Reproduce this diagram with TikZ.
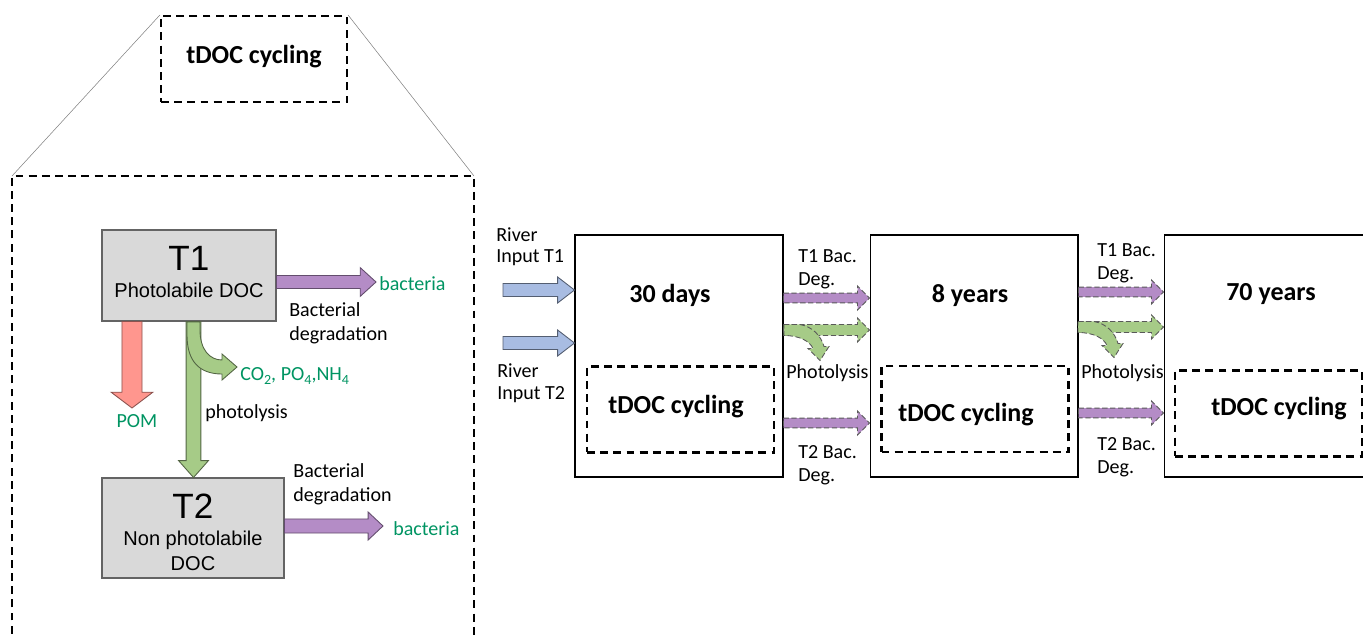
\documentclass[tikz,border=0pt]{standalone}
\usepackage{fontspec}
\setmainfont{Carlito}
\newfontfamily\arialfont{Liberation Sans}
\usetikzlibrary{positioning,calc}

\definecolor{arrpurple}{RGB}{180,140,198}
\definecolor{arrgreen}{RGB}{166,203,135}
\definecolor{arrred}{RGB}{255,150,142}
\definecolor{arrblue}{RGB}{168,188,226}
\definecolor{txtgreen}{RGB}{0,148,98}
\definecolor{boxgray}{RGB}{217,217,217}
\definecolor{boxline}{RGB}{100,100,100}

% block arrow: from #2 to #3, half shaft #4, half head #5, head length #6
\newcommand{\blockarrow}[6][]{%
  \coordinate (ba-base) at ($(#3)!#6!(#2)$);
  \filldraw[#1] ($(#2)!#4!90:(#3)$) -- ($(ba-base)!#4!90:(#3)$)
    -- ($(ba-base)!#5!90:(#3)$) -- (#3) -- ($(ba-base)!#5!-90:(#3)$)
    -- ($(ba-base)!#4!-90:(#3)$) -- ($(#2)!#4!-90:(#3)$) -- cycle;}
\newcommand{\chemsub}[1]{\raisebox{-0.45ex}{\fontsize{8}{8}\selectfont #1}}

\begin{document}
\begin{tikzpicture}[x=0.02cm, y=-0.02cm,
    lbl/.style={font=\fontsize{11.4}{13}\selectfont, inner sep=0pt, align=left},
    arial/.style={font=\arialfont\fontsize{11.4}{14.2}\selectfont, inner sep=0pt, align=center},
    cyc/.style={font=\bfseries\fontsize{14.8}{16}\selectfont, inner sep=0pt},
    dashbox/.style={draw, line width=1.2pt, dash pattern=on 4.5pt off 3pt},
    docbox/.style={draw=boxline, fill=boxgray, line width=0.6pt},
    stagebox/.style={draw, line width=0.6pt, minimum width=4.16cm, minimum height=4.84cm},
    innerbox/.style={dashbox, minimum width=3.74cm, minimum height=1.72cm},
    purplearr/.style={fill=arrpurple, draw=arrpurple!55!black, line width=0.5pt},
    greenarr/.style={fill=arrgreen, draw=arrgreen!50!black, line width=0.5pt},
    redarr/.style={fill=arrred, draw=arrred!55!black, line width=0.5pt},
    bluearr/.style={fill=arrblue, draw=arrblue!50!black, line width=0.5pt},
    dasharr/.style={draw=black!65, line width=0.5pt, dash pattern=on 3pt off 1.5pt}]

\clip (0,0) rectangle (1363,639);

% zoom on one tDOC cycling box
\node[dashbox, minimum width=3.72cm, minimum height=1.72cm] (zoomsrc) at (254,59) {};
\node[cyc, anchor=base] (zoomtxt) at (254,63) {tDOC cycling};
\coordinate (bigtl) at (12,176);
\coordinate (bigtr) at (474,176);
\draw[dashbox] (12,660) -- (bigtl) -- (bigtr) -- (474,660);
\draw[gray, line width=0.3pt] (zoomsrc.north west) -- (bigtl);
\draw[gray, line width=0.3pt] (zoomsrc.north east) -- (bigtr);

% the two pools
\node[docbox, minimum width=3.48cm, minimum height=1.82cm] (t1) at (189,275.5) {};
\node[arial, font=\arialfont\fontsize{20}{20}\selectfont, anchor=base] (t1name) at (189,270) {T1};
\node[arial, anchor=base] (t1desc) at (189,297) {Photolabile DOC};
\node[docbox, minimum width=3.64cm, minimum height=2cm] (t2) at (193,528) {};
\node[arial, font=\arialfont\fontsize{20}{20}\selectfont, anchor=base] (t2name) at (193,518) {T2};
\node[arial, anchor=north] (t2desc) at (193,531) {Non photolabile\\DOC};

% T1 -> bacteria
\coordinate (t1bacttip) at (376,282);
\coordinate (t1bactsrc) at (t1.east |- t1bacttip);
\blockarrow[purplearr]{t1bactsrc}{t1bacttip}{3.7pt}{8.2pt}{9pt}
\node[lbl, text=txtgreen, anchor=base west] (bact1) at (379,290) {bacteria};
\node[lbl, font=\fontsize{11.4}{13.6}\selectfont, anchor=north west] (degr1) at (289,302) {Bacterial\\degradation};

% T1 -> POM
\coordinate (pomtip) at (132,408);
\coordinate (pomsrc) at (t1.south -| pomtip);
\blockarrow[redarr]{pomsrc}{pomtip}{5.7pt}{11.9pt}{9pt}
\node[lbl, text=txtgreen, anchor=base] (pom) at (137,427) {POM};

% T1 -> T2 by photolysis
\coordinate (photx) at (193.5,0);
\coordinate (photsrc) at (t1.south -| photx);
\coordinate (phottip) at (t2.north -| photx);
\blockarrow[greenarr]{photsrc}{phottip}{4.2pt}{8.5pt}{9.6pt}
\filldraw[greenarr] (187,322) -- (187,335) .. controls (187,362) and (200,374) .. (222,374)
  -- (222,380) -- (237,367) -- (222,354) -- (222,360)
  .. controls (210,360) and (200,350) .. (200,330) -- (200,322) -- cycle;
\node[lbl, text=txtgreen, anchor=base west] (mineral) at (240,380) {CO\chemsub{2}, PO\chemsub{4},NH\chemsub{4}};
\node[lbl, anchor=base west] (photol) at (205,418) {photolysis};

% T2 -> bacteria
\coordinate (t2bacttip) at (383,526);
\coordinate (t2bactsrc) at (t2.east |- t2bacttip);
\blockarrow[purplearr]{t2bactsrc}{t2bacttip}{4pt}{8pt}{8.5pt}
\node[lbl, text=txtgreen, anchor=base west] (bact2) at (393,535) {bacteria};
\node[lbl, font=\fontsize{11.4}{13.6}\selectfont, anchor=north west] (degr2) at (293,463) {Bacterial\\degradation};

% residence time boxes
\node[stagebox] (box1) at (679,356) {};
\node[stagebox] (box2) at (974,356) {};
\node[stagebox] (box3) at (1268,356) {};
\node[cyc, anchor=base] (time1) at (670,302) {30 days};
\node[cyc, anchor=base] (time2) at (970,302) {8 years};
\node[cyc, anchor=base] (time3) at (1271,300) {70 years};
\node[innerbox] (cyc1box) at (680.5,409.5) {};
\node[innerbox] (cyc2box) at (975,409) {};
\node[innerbox] (cyc3box) at (1268.5,413.5) {};
\node[cyc, anchor=base] (cyc1) at (676,413) {tDOC cycling};
\node[cyc, anchor=base] (cyc2) at (966,421) {tDOC cycling};
\node[cyc, anchor=base] (cyc3) at (1279,415) {tDOC cycling};

% river inputs
\coordinate (riv1src) at (503,290);
\coordinate (riv1tip) at (box1.west |- riv1src);
\blockarrow[bluearr]{riv1src}{riv1tip}{3.7pt}{7.4pt}{9.6pt}
\coordinate (riv2src) at (503,343);
\coordinate (riv2tip) at (box1.west |- riv2src);
\blockarrow[bluearr]{riv2src}{riv2tip}{3.7pt}{7.4pt}{9.6pt}
\node[lbl, font=\fontsize{11.4}{12}\selectfont, anchor=north west] (riv1) at (496,227) {River\\Input T1};
\node[lbl, font=\fontsize{11.4}{13}\selectfont, anchor=north west] (riv2) at (497,363) {River\\Input T2};

% transfers 30 days -> 8 years
\coordinate (up1src) at (box1.east |- 0,298);
\coordinate (up1tip) at (box2.west |- 0,298);
\blockarrow[purplearr, dasharr]{up1src}{up1tip}{2.8pt}{6.8pt}{6.8pt}
\coordinate (mid1src) at (box1.east |- 0,330);
\coordinate (mid1tip) at (box2.west |- 0,330);
\blockarrow[greenarr, dasharr]{mid1src}{mid1tip}{3.1pt}{6.8pt}{6.8pt}
\begin{scope}[shift={(784,324.5)}]
  \filldraw[greenarr, dasharr] (0,0) -- (16,0) .. controls (28,2) and (37,11) .. (40,22)
    -- (45,22) -- (36,36) -- (24,24) -- (29,24) .. controls (26,17) and (16,11) .. (0,11) -- cycle;
\end{scope}
\coordinate (low1src) at (box1.east |- 0,423);
\coordinate (low1tip) at (box2.west |- 0,423);
\blockarrow[purplearr, dasharr]{low1src}{low1tip}{2.8pt}{6.8pt}{6.8pt}
\node[lbl, anchor=north west] (bac1a) at (798,249) {T1 Bac.\\Deg.};
\node[lbl, anchor=base west] (phot1) at (786,378) {Photolysis};
\node[lbl, anchor=north west] (bac1b) at (798,445) {T2 Bac.\\Deg.};

% transfers 8 years -> 70 years
\coordinate (up2src) at (box2.east |- 0,292);
\coordinate (up2tip) at (box3.west |- 0,292);
\blockarrow[purplearr, dasharr]{up2src}{up2tip}{2.8pt}{6.8pt}{6.8pt}
\coordinate (mid2src) at (box2.east |- 0,327);
\coordinate (mid2tip) at (box3.west |- 0,327);
\blockarrow[greenarr, dasharr]{mid2src}{mid2tip}{3.1pt}{6.8pt}{6.8pt}
\begin{scope}[shift={(1078,321.5)}]
  \filldraw[greenarr, dasharr] (0,0) -- (16,0) .. controls (28,2) and (37,11) .. (40,22)
    -- (45,22) -- (36,36) -- (24,24) -- (29,24) .. controls (26,17) and (16,11) .. (0,11) -- cycle;
\end{scope}
\coordinate (low2src) at (box2.east |- 0,413);
\coordinate (low2tip) at (box3.west |- 0,413);
\blockarrow[purplearr, dasharr]{low2src}{low2tip}{2.8pt}{6.8pt}{6.8pt}
\node[lbl, anchor=north west] (bac2a) at (1097,243) {T1 Bac.\\Deg.};
\node[lbl, anchor=base west] (phot2) at (1081,378) {Photolysis};
\node[lbl, anchor=north west] (bac2b) at (1097,437) {T2 Bac.\\Deg.};

\end{tikzpicture}
\end{document}
